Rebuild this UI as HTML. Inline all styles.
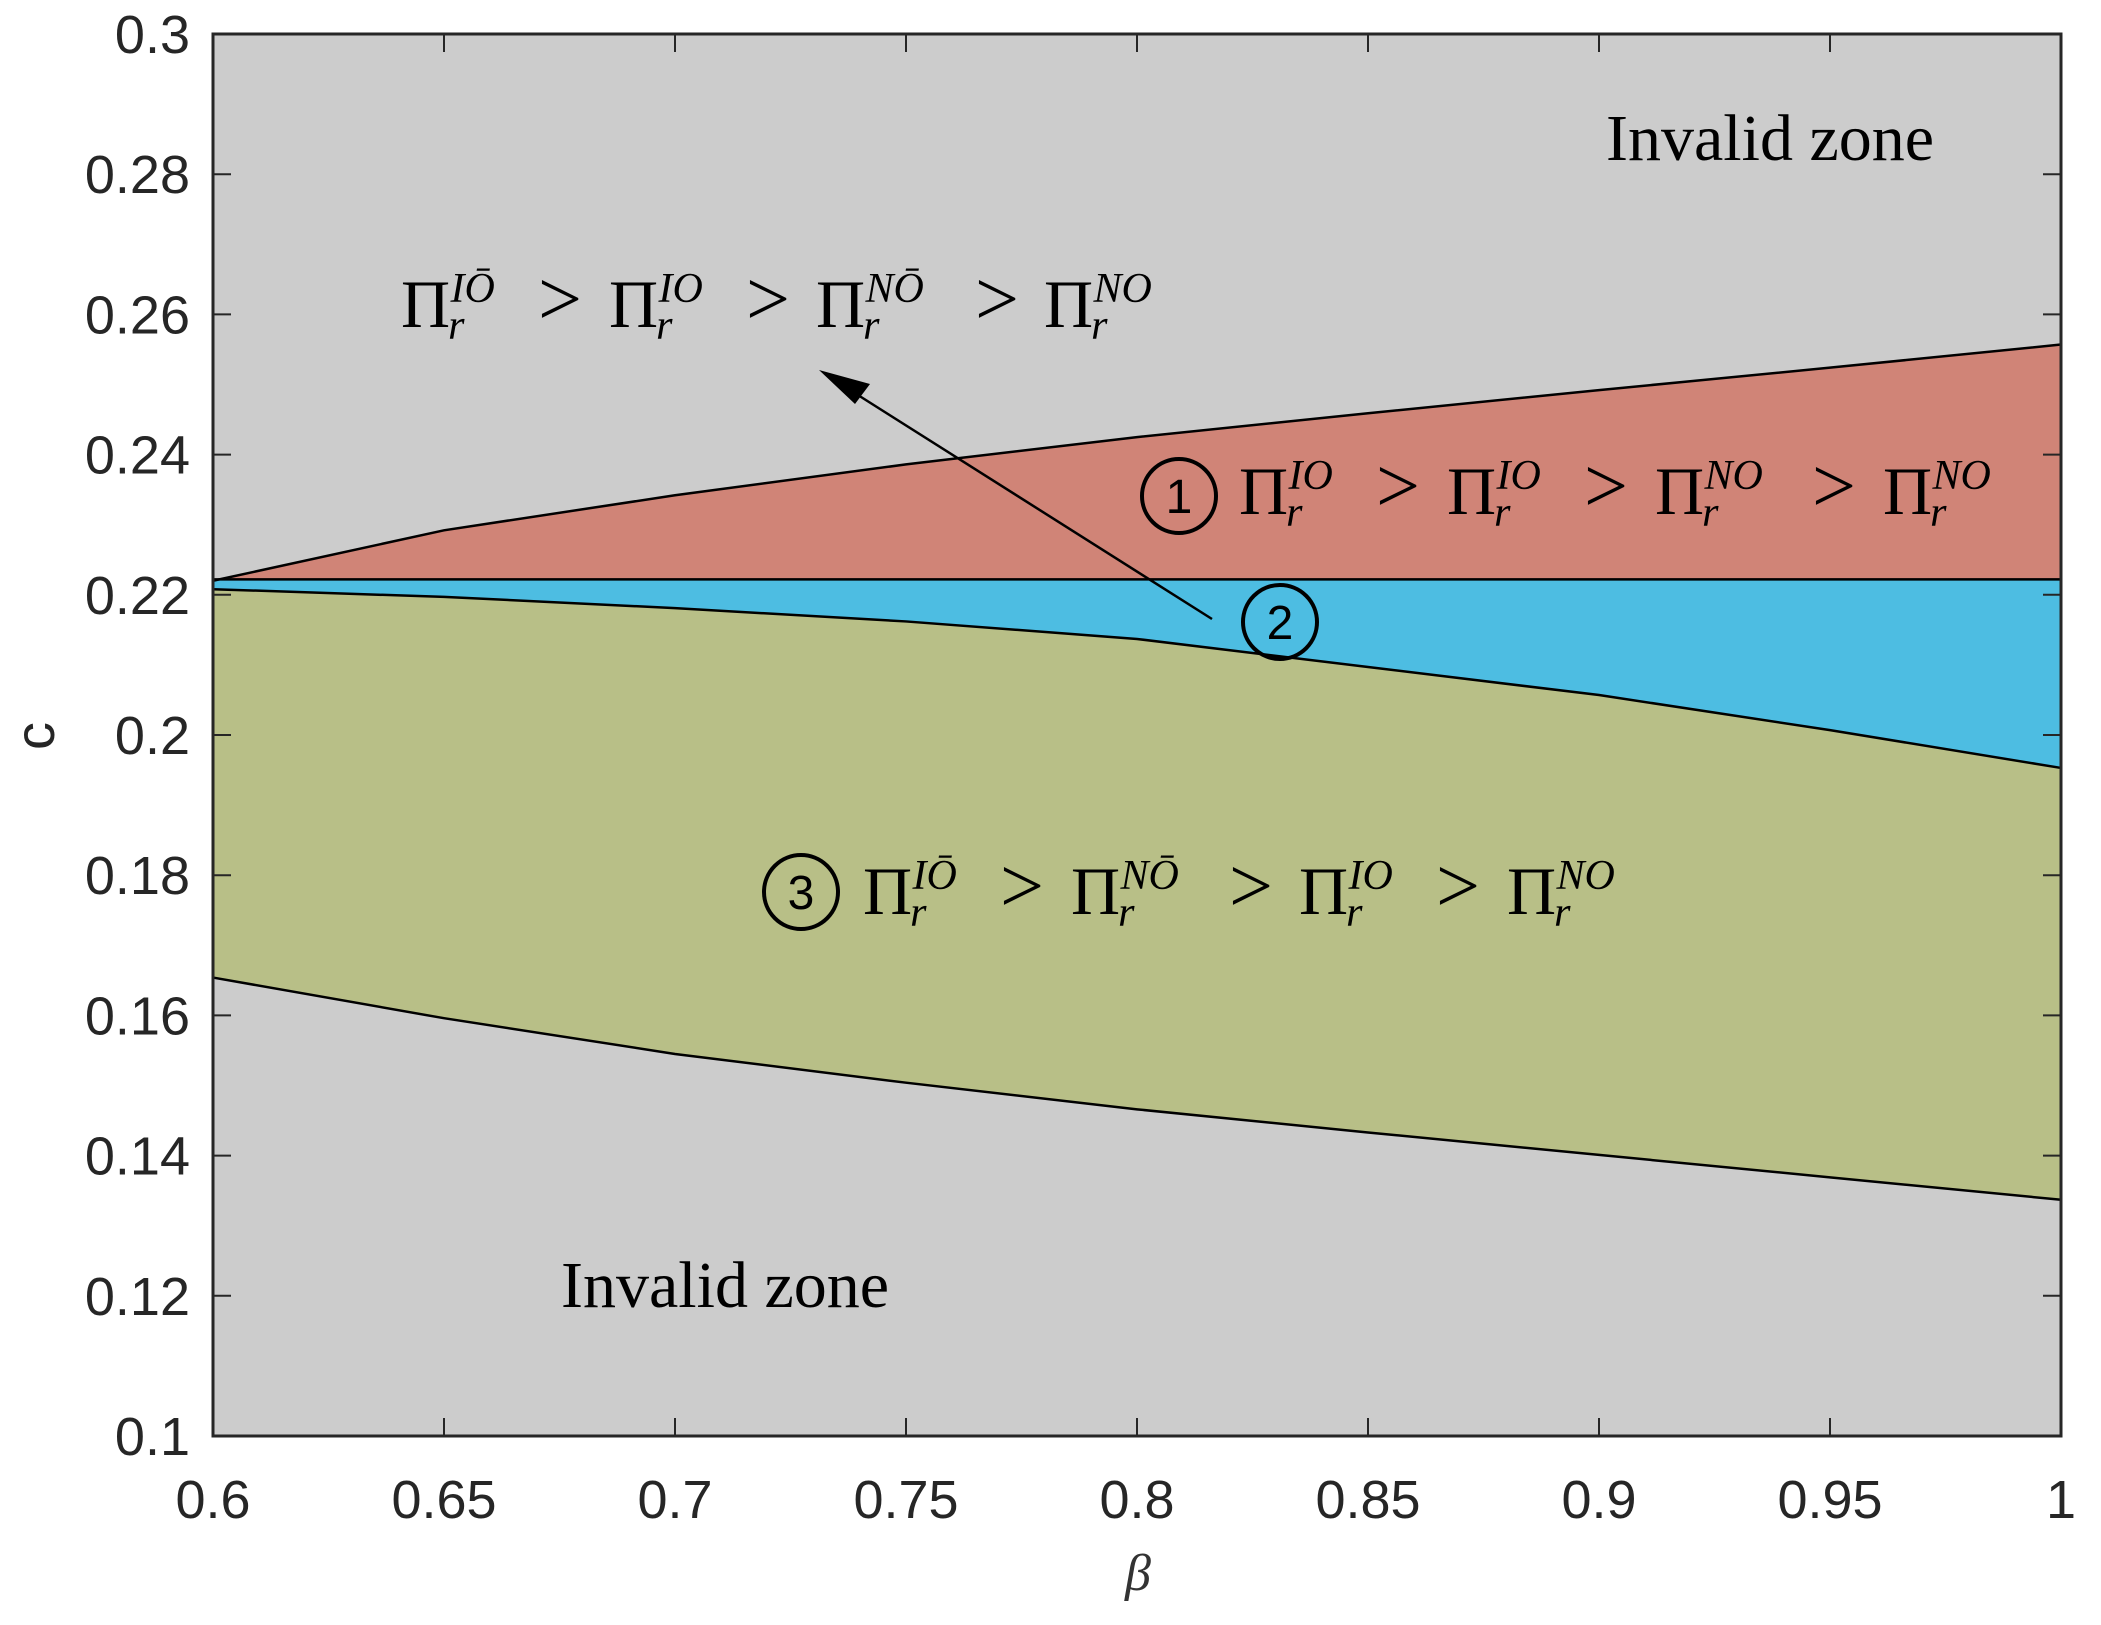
<!DOCTYPE html>
<html><head><meta charset="utf-8"><style>
html,body{margin:0;padding:0;background:#fff}
svg{display:block}
text{font-family:"Liberation Serif",serif}
.tick{font-family:"Liberation Sans",sans-serif;font-size:54px;fill:#262626}
</style></head><body>
<svg id="chart" width="2101" height="1625" viewBox="0 0 2101 1625" xmlns="http://www.w3.org/2000/svg">
<g id="plot"></g>
</svg>
<script>
const xTicks=[0.6,0.65,0.7,0.75,0.8,0.85,0.9,0.95,1];
const xTickLabels=["0.6","0.65","0.7","0.75","0.8","0.85","0.9","0.95","1"];
const yTicks=[0.1,0.12,0.14,0.16,0.18,0.2,0.22,0.24,0.26,0.28,0.3];
const yTickLabels=["0.1","0.12","0.14","0.16","0.18","0.2","0.22","0.24","0.26","0.28","0.3"];
const beta=[0.6,0.65,0.7,0.75,0.8,0.85,0.9,0.95,1.0];
const redTop=[0.2220,0.2292,0.2342,0.2386,0.2425,0.2459,0.2492,0.2524,0.2557];
const redBottom=[0.2222,0.2222,0.2222,0.2222,0.2222,0.2222,0.2222,0.2222,0.2222];
const blueBottom=[0.2208,0.2197,0.2181,0.2162,0.2137,0.2097,0.2057,0.2007,0.1953];
const greenBottom=[0.1654,0.1596,0.1545,0.1504,0.1466,0.1433,0.1401,0.1369,0.1337];

const L=213,R=2061,T=34,B=1436;
const xs=v=>L+(v-0.6)/0.4*(R-L);
const ys=v=>B-(v-0.1)/0.2*(B-T);
const NS="http://www.w3.org/2000/svg";
const g=document.getElementById('plot');
function el(tag,attrs,parent){const e=document.createElementNS(NS,tag);for(const k in attrs)e.setAttribute(k,attrs[k]);(parent||g).appendChild(e);return e;}

const bg=el('rect',{x:L,y:T,width:R-L,height:B-T,fill:'#cccccc'});



function band(top,bot,fill,name){
  let d='M'+beta.map((b,i)=>xs(b)+','+ys(top[i])).join(' L');
  for(let i=beta.length-1;i>=0;i--)d+=' L'+xs(beta[i])+','+ys(bot[i]);
  const p=el('path',{d:d+'Z',fill:fill});
  
  
}
band(redTop,redBottom,'#d08477','region-1-red');
band(redBottom,blueBottom,'#4dbde2','region-2-blue');
band(blueBottom,greenBottom,'#b8bf87','region-3-green');

function line(arr,name){
  const p=el('path',{d:'M'+beta.map((b,i)=>xs(b)+','+ys(arr[i])).join(' L'),fill:'none',stroke:'#000','stroke-width':2.5});
  
  
}
line(redTop,'upper-boundary');line(redBottom,'middle-boundary');line(blueBottom,'lower-middle-boundary');line(greenBottom,'lower-boundary');

const frame=el('rect',{x:L,y:T,width:R-L,height:B-T,fill:'none',stroke:'#262626','stroke-width':3});



xTicks.forEach((v,i)=>{
  const x=xs(v);
  el('line',{x1:x,y1:B,x2:x,y2:B-18,stroke:'#262626','stroke-width':2});
  el('line',{x1:x,y1:T,x2:x,y2:T+18,stroke:'#262626','stroke-width':2});
  const t=el('text',{x:x,y:1518,'text-anchor':'middle',class:'tick'});t.textContent=xTickLabels[i];
  
  
});
yTicks.forEach((v,i)=>{
  const y=ys(v);
  el('line',{x1:L,y1:y,x2:L+18,y2:y,stroke:'#262626','stroke-width':2});
  el('line',{x1:R,y1:y,x2:R-18,y2:y,stroke:'#262626','stroke-width':2});
  const t=el('text',{x:190,y:y+19,'text-anchor':'end',class:'tick'});t.textContent=yTickLabels[i];
  
  
});

function term(x,base,sup,name){
  const t=el('text',{x:x,y:base,'font-size':68,fill:'#000'});
  
  
  const a=el('tspan',{},t);a.textContent='Π';
  const b=el('tspan',{'font-size':42,'font-style':'italic',dy:12,dx:-2},t);b.textContent='r';
  const c=el('tspan',{'font-size':42,'font-style':'italic',dy:-37,dx:-14},t);c.textContent=sup;
}
function gt(x,base){const t=el('text',{x:x,y:base-2,'font-size':78,fill:'#000'});t.textContent='>';}
function label(px,gxs,base,sups,name){
  px.forEach((x,i)=>term(x,base,sups[i],name+'-term'));
  gxs.forEach(x=>gt(x,base));
}
label([401,609,816,1044],[538,746,975],327,['IŌ','IO','NŌ','NO'],'top-label');
label([1239,1447,1655,1883],[1376,1584,1812],514,['IO','IO','NO','NO'],'region-1-label');
label([863,1071,1299,1507],[1000,1229,1436],914,['IŌ','NŌ','IO','NO'],'region-3-label');

function circ(cx,cy,n,name){
  const c=el('circle',{cx:cx,cy:cy,r:37,fill:'none',stroke:'#000','stroke-width':4});
  
  
  const t=el('text',{x:cx,y:cy+17,'text-anchor':'middle','font-size':48,style:'font-family:"Liberation Sans",sans-serif'});t.textContent=n;
}
circ(1179,496,'1','circle-1');circ(1280,622,'2','circle-2');circ(801,892,'3','circle-3');

const ar=el('line',{x1:1212,y1:619,x2:850,y2:390,stroke:'#000','stroke-width':2.5});


el('polygon',{points:'819,370 870,384 855,404',fill:'#000'});

function txt(x,y,s,size,name,extra){const t=el('text',Object.assign({x:x,y:y,'font-size':size},extra||{}));t.textContent=s;
  
  return t;}
txt(1606,160,'Invalid zone',66,'invalid-zone-top-label');
txt(561,1307,'Invalid zone',66,'invalid-zone-bottom-label');
txt(1138,1590,'β',52,'x-axis-title',{'font-style':'italic','text-anchor':'middle',fill:'#333'});
const yl=txt(0,0,'c',56,'y-axis-title',{'text-anchor':'middle',fill:'#262626',transform:'translate(54,736) rotate(-90)',style:'font-family:"Liberation Sans",sans-serif'});
</script>
</body></html>
